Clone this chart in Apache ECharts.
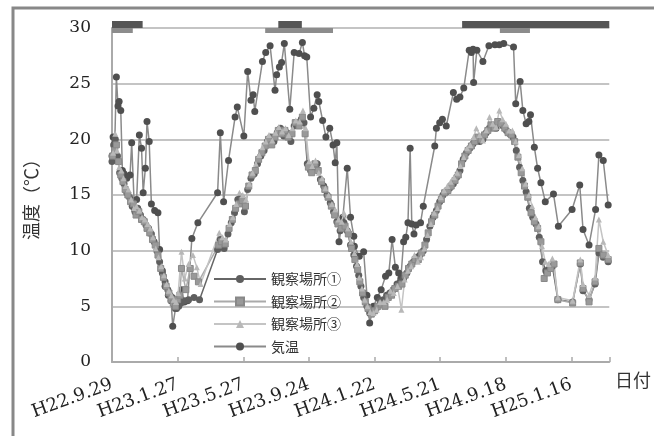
<!DOCTYPE html>
<html><head><meta charset="utf-8">
<script src="https://cdn.jsdelivr.net/npm/echarts@6/dist/echarts.min.js"></script>
<style>html,body{margin:0;padding:0;background:#fff}#c{width:654px;height:436px}</style>
</head><body><div id="c"></div>
<script>
// x values are days since H22.9.29 (2010-09-29)
const tickLabels = ['H22.9.29','H23.1.27','H23.5.27','H23.9.24','H24.1.22','H24.5.21','H24.9.18','H25.1.16'];
const seriesNames = ['観察場所①','観察場所②','観察場所③','気温'];
const darkPeriods = [[0,56],[304,347],[640,909]];
const lightPeriods = [[0,38],[280,404],[709,764]];

const site1 = [[0,18.0],[3,19.5],[6,20.0],[10,18.5],[14,17.0],[18,16.5],[22,16.0],[27,15.2],[32,14.8],[37,14.0],[42,13.5],[47,13.8],[52,13.2],[57,12.8],[62,12.3],[67,12.0],[72,11.5],[77,10.8],[82,10.0],[87,9.0],[92,8.0],[97,7.2],[102,6.5],[106,6.0],[110,5.8],[114,5.2],[118,4.8],[122,5.0],[126,5.3],[132,5.5],[140,5.6],[150,5.8],[160,5.6],[193,10.1],[198,11.0],[205,10.2],[212,11.5],[218,12.5],[224,13.4],[230,14.6],[236,14.8],[242,13.5],[248,15.5],[254,16.5],[260,16.9],[266,17.8],[272,18.5],[278,19.0],[284,19.8],[290,20.2],[296,19.8],[302,20.6],[308,21.0],[314,20.3],[320,20.6],[327,19.8],[333,21.2],[340,21.5],[346,21.8],[351,21.5],[357,17.8],[363,17.2],[369,17.5],[375,17.8],[381,16.4],[387,15.8],[393,15.0],[399,14.3],[405,13.5],[411,12.6],[417,11.8],[424,12.5],[430,11.8],[436,10.5],[442,9.6],[447,8.6],[451,7.8],[455,6.8],[460,5.8],[466,5.0],[471,4.4],[477,4.5],[483,4.8],[490,5.5],[496,5.6],[502,6.0],[508,6.2],[514,6.5],[521,7.0],[527,7.2],[533,7.5],[539,8.0],[545,8.6],[551,9.0],[557,9.4],[563,9.6],[569,10.0],[575,11.0],[581,12.2],[587,13.0],[593,13.6],[599,14.4],[605,15.0],[611,15.3],[617,15.6],[624,16.0],[630,16.6],[636,17.2],[642,18.2],[648,18.8],[654,19.2],[660,19.6],[666,20.0],[672,19.8],[678,20.0],[684,20.6],[690,21.0],[696,21.2],[702,21.0],[708,21.5],[715,21.2],[721,20.8],[727,20.5],[733,20.2],[739,19.0],[745,17.5],[751,16.3],[757,15.3],[763,13.8],[769,13.0],[775,12.4],[781,11.2],[787,9.0],[793,8.2],[799,8.4],[805,8.6],[815,5.6],[842,5.4],[856,8.8],[861,6.4],[872,5.6],[883,7.0],[890,9.8],[898,9.4],[907,9.0]];

const site2 = [[1,18.5],[5,19.0],[8,19.5],[12,18.0],[16,16.8],[20,16.2],[24,15.5],[29,15.0],[34,14.4],[39,14.2],[44,13.2],[49,13.5],[54,12.8],[59,12.6],[64,12.0],[69,11.6],[74,11.0],[79,10.5],[84,9.6],[89,8.4],[94,7.6],[99,6.8],[104,6.2],[108,5.6],[112,5.3],[116,5.0],[120,5.6],[124,6.0],[127,8.4],[135,6.5],[143,8.4],[150,7.7],[158,7.2],[195,10.5],[200,10.8],[207,10.6],[214,12.0],[220,12.8],[226,13.8],[232,14.2],[238,14.5],[244,14.0],[250,15.8],[256,16.8],[262,17.2],[268,18.2],[274,18.8],[280,19.4],[286,20.0],[292,19.5],[298,20.2],[304,20.8],[310,20.5],[316,20.8],[322,20.2],[329,20.5],[335,21.5],[342,21.2],[348,22.0],[353,20.5],[359,17.5],[365,17.0],[371,17.8],[377,17.2],[383,16.2],[389,15.5],[395,14.8],[401,14.0],[407,13.2],[413,12.4],[419,12.0],[426,12.2],[432,11.5],[438,10.2],[444,9.2],[449,8.3],[453,7.2],[458,6.2],[463,5.4],[468,4.8],[474,4.3],[480,4.6],[486,5.0],[492,5.2],[499,5.0],[505,5.8],[511,6.0],[517,6.6],[524,6.8],[530,7.0],[536,7.8],[542,8.4],[548,8.8],[554,9.2],[560,9.2],[566,9.8],[572,10.5],[578,11.6],[584,12.6],[590,13.2],[596,14.0],[602,14.6],[608,15.2],[614,15.4],[620,15.8],[627,16.3],[633,16.8],[639,17.8],[645,18.5],[651,19.0],[657,19.4],[663,19.8],[669,20.2],[675,20.0],[681,20.4],[687,20.8],[693,21.3],[699,21.0],[705,21.6],[711,21.4],[718,21.0],[724,20.6],[730,20.4],[736,19.8],[742,18.4],[748,17.0],[754,15.8],[760,14.8],[766,13.4],[772,12.6],[778,12.0],[784,10.8],[790,7.5],[796,8.0],[802,8.4],[808,8.8],[815,5.6],[842,5.3],[856,8.9],[861,6.6],[872,5.4],[883,7.2],[890,10.2],[898,9.6],[907,9.2]];

const site3 = [[2,18.8],[6,20.5],[9,19.0],[13,17.5],[17,17.2],[21,16.5],[25,15.8],[30,15.5],[35,14.6],[40,13.8],[45,14.0],[50,13.6],[55,13.0],[60,12.8],[65,12.4],[70,12.0],[75,11.2],[80,10.2],[85,9.4],[90,8.6],[95,7.8],[100,7.0],[104,6.4],[109,6.0],[113,5.6],[117,5.4],[121,6.2],[127,9.9],[133,7.5],[140,8.8],[148,9.6],[155,8.5],[162,7.0],[196,11.6],[202,11.2],[208,11.0],[215,12.4],[221,13.0],[227,14.2],[233,15.2],[239,15.0],[245,14.6],[251,16.0],[257,17.0],[263,17.8],[269,18.6],[275,19.3],[281,19.8],[287,20.4],[293,19.9],[299,20.6],[305,21.1],[311,20.7],[317,21.0],[323,20.4],[330,21.0],[336,21.7],[343,21.6],[349,22.6],[354,21.0],[360,18.0],[366,17.6],[372,18.1],[378,17.0],[384,16.5],[390,15.6],[396,15.0],[402,14.2],[408,13.7],[414,12.8],[420,12.6],[424,13.4],[431,12.0],[437,10.8],[443,9.8],[448,8.8],[452,7.6],[457,6.6],[462,5.6],[467,5.0],[472,4.5],[478,4.4],[484,4.7],[490,5.4],[497,5.4],[503,5.6],[509,6.4],[515,6.2],[522,6.8],[529,4.7],[535,7.4],[541,8.2],[547,8.6],[553,9.6],[559,9.0],[565,9.4],[571,10.2],[577,11.4],[583,12.4],[589,13.4],[595,13.8],[601,14.8],[607,15.4],[613,15.8],[619,16.2],[625,16.6],[631,17.0],[637,17.6],[643,18.4],[649,19.2],[655,19.5],[661,20.2],[666,21.0],[672,20.4],[678,19.9],[684,20.8],[690,22.0],[696,21.4],[702,21.1],[708,22.6],[714,21.8],[720,21.4],[726,20.8],[732,20.8],[738,19.8],[744,18.6],[750,17.4],[756,16.0],[762,15.0],[768,14.0],[774,13.0],[780,12.2],[786,10.4],[792,9.0],[798,8.8],[805,9.3],[815,5.8],[842,5.5],[856,9.2],[861,7.0],[872,6.0],[883,7.6],[890,12.8],[898,10.8],[907,9.6]];

const airTemp = [[0,18.5],[2,20.2],[5,19.6],[8,25.6],[11,23.0],[13,23.4],[16,22.6],[19,17.2],[22,16.9],[27,16.5],[33,16.8],[36,19.7],[41,13.7],[45,14.6],[50,20.4],[54,19.2],[57,15.2],[61,17.4],[64,21.6],[68,19.8],[72,14.2],[78,13.6],[84,13.4],[87,10.1],[92,8.2],[97,6.8],[103,6.0],[108,5.5],[111,3.2],[116,4.8],[122,5.6],[127,6.5],[132,5.4],[138,5.5],[146,11.1],[157,12.5],[193,15.2],[198,20.6],[204,14.4],[213,18.1],[225,22.0],[229,22.9],[241,20.3],[248,26.1],[254,23.5],[258,24.0],[261,22.5],[275,27.0],[281,27.8],[289,28.4],[298,24.4],[301,25.8],[306,26.5],[310,26.9],[315,28.6],[325,22.7],[333,27.8],[342,27.7],[348,28.7],[352,27.5],[356,27.4],[363,22.0],[369,22.8],[375,24.0],[378,23.4],[385,21.7],[391,20.2],[398,21.0],[404,19.5],[408,17.9],[411,19.7],[415,10.8],[422,13.0],[430,17.4],[436,13.0],[442,11.3],[443,10.4],[452,9.5],[460,9.9],[466,6.0],[471,3.5],[478,5.0],[485,5.8],[492,6.5],[500,7.7],[506,8.0],[512,11.0],[518,8.5],[524,8.0],[528,7.5],[533,10.8],[537,11.2],[541,12.5],[545,19.2],[548,12.4],[552,11.5],[556,12.3],[564,12.5],[569,14.0],[590,19.4],[593,21.0],[599,21.5],[604,21.8],[611,21.2],[624,24.2],[630,23.6],[636,23.8],[643,24.6],[653,28.0],[657,27.8],[660,28.1],[661,25.1],[667,28.0],[678,27.0],[689,28.4],[700,28.5],[708,28.5],[716,28.6],[734,28.3],[738,23.2],[746,25.2],[751,22.6],[757,21.4],[762,21.6],[765,22.2],[772,19.3],[778,17.4],[784,16.1],[792,14.4],[807,15.1],[816,12.2],[841,13.7],[855,15.9],[861,11.9],[872,10.5],[884,13.7],[890,18.6],[898,18.1],[907,14.1]];

const chart = echarts.init(document.getElementById('c'), null, {renderer:'canvas'});

function periodSeries(data, y0, y1, color){
  return {
    type:'custom', silent:true, clip:false, z:5,
    data: data,
    renderItem: function(params, api){
      const p0 = api.coord([api.value(0), y1]);
      const p1 = api.coord([api.value(1), y0]);
      return {type:'rect', shape:{x:p0[0], y:p0[1], width:p1[0]-p0[0], height:p1[1]-p0[1]}, style:{fill:color}};
    }
  };
}

const serif = '"DejaVu Serif", "Liberation Serif", serif';
const cjk = '"Noto Sans CJK JP", sans-serif';

chart.setOption({
  animation:false,
  backgroundColor:'#fff',
  graphic:[{type:'rect', shape:{x:13, y:8, width:700, height:500}, style:{fill:'none', stroke:'#888', lineWidth:3}, z:-10}],
  grid:{left:112, right:42, top:28, bottom:74},
  legend:{
    data:seriesNames, orient:'vertical', left:208, top:267, itemWidth:52, itemHeight:10, itemGap:8.5,
    textStyle:{fontFamily:cjk, fontSize:14, color:'#333'}
  },
  xAxis:{
    type:'value', min:0, max:909, interval:120,
    name:'日付', nameLocation:'end', nameGap:2,
    nameTextStyle:{fontFamily:cjk, fontSize:18, color:'#333', align:'center', verticalAlign:'top', padding:[9,0,0,0]},
    axisLine:{show:true, lineStyle:{color:'#aaa', width:2}},
    axisTick:{show:true, inside:true, length:5, lineStyle:{color:'#aaa', width:1.5}},
    splitLine:{show:false},
    axisLabel:{rotate:20, margin:22, fontFamily:serif, fontSize:18, color:'#222',
      formatter:function(v){ const i = Math.round(v/120); return (v % 120 === 0 && tickLabels[i]) ? tickLabels[i] : ''; }}
  },
  yAxis:{
    type:'value', min:0, max:30, interval:5,
    name:'温度（℃）', nameLocation:'middle', nameRotate:90, nameGap:72,
    nameTextStyle:{fontFamily:cjk, fontSize:18, color:'#333'},
    axisLine:{show:true, lineStyle:{color:'#aaa', width:2}},
    axisTick:{show:false},
    splitLine:{show:true, lineStyle:{color:'#c4c4c4', width:2}},
    axisLabel:{margin:21, fontFamily:serif, fontSize:17, color:'#222'}
  },
  series:[
    {name:seriesNames[3], type:'line', data:airTemp, symbol:'circle', symbolSize:7, z:3,
      lineStyle:{color:'#8a8a8a', width:1.5}, itemStyle:{color:'#4f4f4f'}},
    {name:seriesNames[0], type:'line', data:site1, symbol:'circle', symbolSize:7, z:4,
      lineStyle:{color:'#666', width:1.5}, itemStyle:{color:'#5e5e5e'}},
    {name:seriesNames[1], type:'line', data:site2, symbol:'rect', symbolSize:6, z:4,
      lineStyle:{color:'#aaa', width:1.5}, itemStyle:{color:'#999', borderColor:'#888', borderWidth:1}},
    {name:seriesNames[2], type:'line', data:site3, symbol:'triangle', symbolSize:6, z:4,
      lineStyle:{color:'#c4c4c4', width:1.5}, itemStyle:{color:'#b8b8b8'}},
    periodSeries(darkPeriods, 30, 30.63, '#555'),
    periodSeries(lightPeriods, 29.55, 30, '#8c8c8c')
  ]
});
</script></body></html>
